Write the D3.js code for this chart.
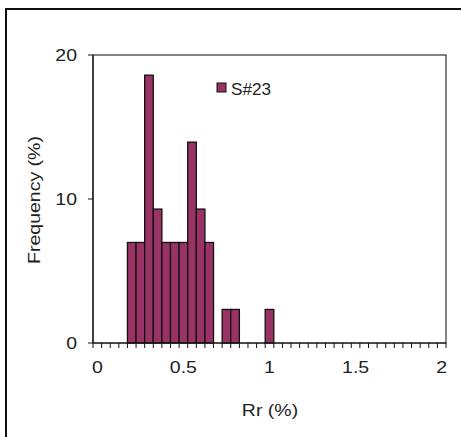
<!DOCTYPE html>
<html>
<head>
<meta charset="utf-8">
<script src="https://cdn.jsdelivr.net/npm/d3@7"></script>
<style>
  body { margin: 0; background: #fff; }
  text { font-family: "Liberation Sans", Arial, sans-serif; fill: #222; }
</style>
</head>
<body>
<svg id="mainFrame"></svg>
<script>
// Rr bins (category axis, step 0.05)
const bins = ['0', '0.05', '0.1', '0.15', '0.2', '0.25', '0.3', '0.35', '0.4', '0.45',
    '0.5', '0.55', '0.6', '0.65', '0.7', '0.75', '0.8', '0.85', '0.9', '0.95',
    '1', '1.05', '1.1', '1.15', '1.2', '1.25', '1.3', '1.35', '1.4', '1.45',
    '1.5', '1.55', '1.6', '1.65', '1.7', '1.75', '1.8', '1.85', '1.9', '1.95', '2']
// frequency (%) per bin, S#23
const freq = [0, 0, 0, 0, 6.98, 6.98, 18.6, 9.3, 6.98, 6.98,
    6.98, 13.95, 9.3, 6.98, 0, 2.33, 2.33, 0, 0, 0,
    2.33, 0, 0, 0, 0, 0, 0, 0, 0, 0,
    0, 0, 0, 0, 0, 0, 0, 0, 0, 0, 0]
const xLabels = ['0', '0.5', '1', '1.5', '2']
const yTicks = [0, 10, 20]
const seriesName = 'S#23'

const width = 461, height = 437
const svg = d3.select('#mainFrame')
    .attr('width', width)
    .attr('height', height)

const plot = {left: 93, right: 446, top: 55, bottom: 343}
const stretch = 1.22

// outer chart frame (right/bottom edges fall outside the picture)
svg.append('rect')
    .attr('x', 6).attr('y', 9)
    .attr('width', 480).attr('height', 460)
    .attr('fill', 'none')
    .attr('stroke', '#111')
    .attr('stroke-width', 2)

const x = d3.scaleBand()
    .domain(bins)
    .range([plot.left, plot.right])
    .paddingInner(0)

const y = d3.scaleLinear()
    .domain([0, 20])
    .range([plot.bottom, plot.top])

// plot area border
svg.append('rect')
    .attr('x', plot.left).attr('y', plot.top)
    .attr('width', plot.right - plot.left)
    .attr('height', plot.bottom - plot.top)
    .attr('fill', 'none')
    .attr('stroke', '#333')
    .attr('stroke-width', 1.2)

// bars
svg.append('g').selectAll('rect')
    .data(bins.map((b, i) => ({bin: b, value: freq[i]})).filter(d => d.value > 0))
    .join('rect')
    .attr('x', d => x(d.bin))
    .attr('y', d => y(d.value))
    .attr('width', x.bandwidth())
    .attr('height', d => y(0) - y(d.value))
    .attr('fill', '#993366')
    .attr('stroke', '#111')
    .attr('stroke-width', 1.3)

// x axis: ticks between categories, labels every 10th bin
const xAxis = svg.append('g')
svg.append('line')
    .attr('x1', plot.left).attr('x2', plot.right)
    .attr('y1', plot.bottom).attr('y2', plot.bottom)
    .attr('stroke', '#111').attr('stroke-width', 1.2)
xAxis.selectAll('line.tick')
    .data(bins.concat(['end']))
    .join('line')
    .attr('class', 'tick')
    .attr('x1', (d, i) => plot.left + i * x.step())
    .attr('x2', (d, i) => plot.left + i * x.step())
    .attr('y1', plot.bottom)
    .attr('y2', plot.bottom + 5)
    .attr('stroke', '#111')
xAxis.selectAll('text')
    .data(xLabels)
    .join('text')
    .attr('transform', d => `translate(${x(d) + x.bandwidth() / 2},373) scale(${stretch},1)`)
    .attr('text-anchor', 'middle')
    .attr('font-size', 16)
    .text(d => d)

// y axis
svg.append('line')
    .attr('x1', plot.left).attr('x2', plot.left)
    .attr('y1', plot.top).attr('y2', plot.bottom)
    .attr('stroke', '#111').attr('stroke-width', 1.2)
const yAxis = svg.append('g')
yAxis.selectAll('line')
    .data(yTicks)
    .join('line')
    .attr('x1', plot.left - 5).attr('x2', plot.left)
    .attr('y1', d => y(d)).attr('y2', d => y(d))
    .attr('stroke', '#111')
yAxis.selectAll('text')
    .data(yTicks)
    .join('text')
    .attr('transform', d => `translate(77,${y(d) + 6}) scale(${stretch},1)`)
    .attr('text-anchor', 'end')
    .attr('font-size', 16)
    .text(d => d)

// axis titles
svg.append('text')
    .attr('transform', `translate(270,416) scale(${stretch},1)`)
    .attr('text-anchor', 'middle')
    .attr('font-size', 16)
    .text('Rr (%)')
svg.append('text')
    .attr('transform', `translate(40,200) rotate(-90) scale(${stretch},1)`)
    .attr('text-anchor', 'middle')
    .attr('font-size', 16)
    .text('Frequency (%)')

// legend
const legend = svg.append('g').attr('transform', 'translate(217,83)')
legend.append('rect')
    .attr('width', 9).attr('height', 9)
    .attr('fill', '#993366')
    .attr('stroke', '#111')
legend.append('text')
    .attr('transform', `translate(14,12) scale(1.07,1)`)
    .attr('font-size', 16)
    .text(seriesName)
</script>
</body>
</html>
